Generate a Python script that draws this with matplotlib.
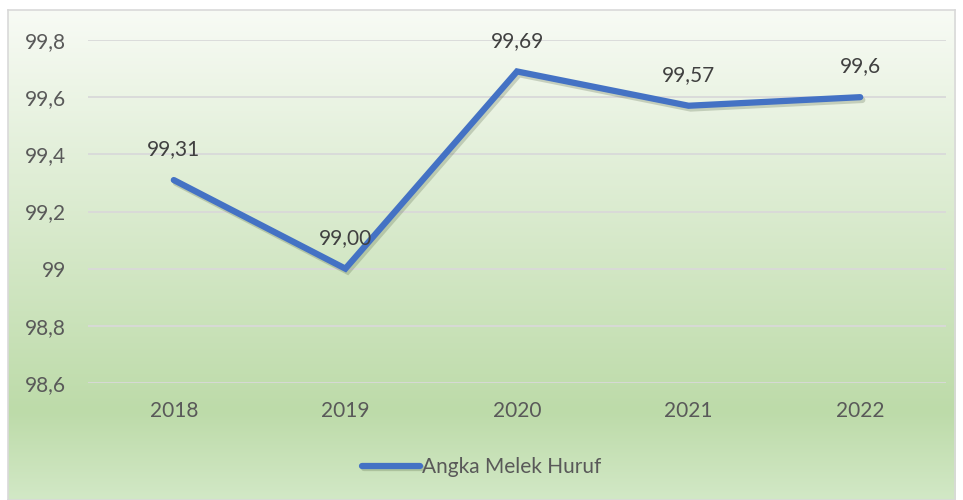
import matplotlib.pyplot as plt
import matplotlib.patheffects as pe
import numpy as np
from matplotlib.colors import LinearSegmentedColormap

years = ['2018', '2019', '2020', '2021', '2022']
values = [99.31, 99.00, 99.69, 99.57, 99.60]
labels = ['99,31', '99,00', '99,69', '99,57', '99,6']
yticks = [98.6, 98.8, 99.0, 99.2, 99.4, 99.6, 99.8]
ytick_labels = ['98,6', '98,8', '99', '99,2', '99,4', '99,6', '99,8']

plt.rcParams['font.family'] = ['Lato', 'DejaVu Sans']

W, H = 963, 500
fig = plt.figure(figsize=(W / 100, H / 100), dpi=100)

# background gradient for the chart box
bg = fig.add_axes([8 / W, 0, (955 - 8) / W, (500 - 10) / H])
cmap = LinearSegmentedColormap.from_list(
    'g', [(0, '#f8fbf5'), (0.82, '#bddba9'), (1, '#d2e8c6')])
grad = np.linspace(0, 1, 256).reshape(-1, 1)
bg.imshow(grad, aspect='auto', cmap=cmap, extent=[0, 1, 0, 1], origin='upper')
bg.set_xticks([])
bg.set_yticks([])
for s in bg.spines.values():
    s.set_color('#d9d9d9')
    s.set_linewidth(1.2)

# plot area
left, right = 88, 946
top, bottom = 40, 383
ax = fig.add_axes([left / W, 1 - bottom / H, (right - left) / W, (bottom - top) / H])
ax.patch.set_alpha(0)
x = np.arange(len(years))
ax.plot(x, values, color='#4472c4', lw=4.5, solid_capstyle='round',
        solid_joinstyle='miter', label='Angka Melek Huruf',
        path_effects=[pe.SimpleLineShadow(offset=(1.5, -2), alpha=0.25, shadow_color='#506040'),
                      pe.Normal()])
for xi, v, t in zip(x, values, labels):
    ax.annotate(t, (xi, v), xytext=(0, 15), textcoords='offset points',
                ha='center', va='bottom', fontsize=15, color='#404040')

ax.set_xlim(-0.5, len(years) - 0.5)
ax.set_ylim(98.6, 99.8)
ax.set_yticks(yticks)
ax.set_yticklabels(ytick_labels)
ax.set_xticks(x)
ax.set_xticklabels(years)
ax.tick_params(length=0, labelsize=15, labelcolor='#595959')
ax.tick_params(axis='y', pad=16)
ax.tick_params(axis='x', pad=13)
ax.grid(axis='y', color='#d9d9d9', lw=1.3)
ax.set_axisbelow(True)
for s in ax.spines.values():
    s.set_visible(False)

leg = fig.legend(loc='center', bbox_to_anchor=(0.5, 1 - 467 / H), frameon=False,
                 fontsize=15, handlelength=2.8, handletextpad=0.1)
for t in leg.get_texts():
    t.set_color('#595959')

fig.savefig('out.png', dpi=100)
